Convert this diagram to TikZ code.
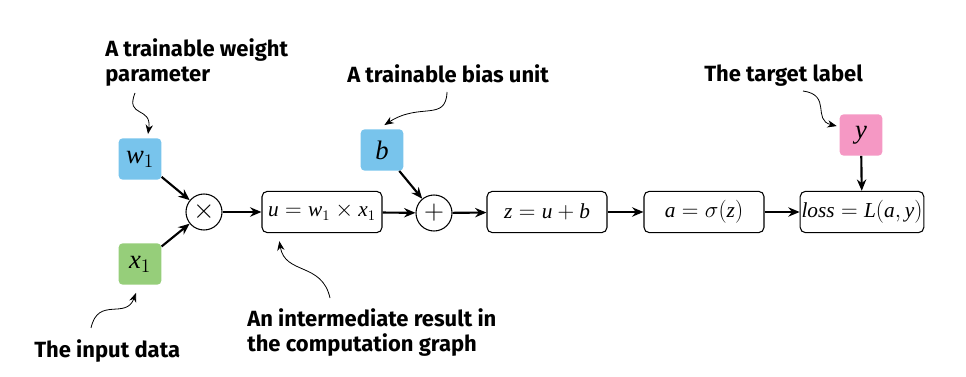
\documentclass[tikz,border=0pt]{standalone}
\usepackage{fontspec}
\setmainfont{Liberation Serif}
\setmathrm{Liberation Serif}
\newfontfamily\tms{Liberation Serif}
\newfontfamily\labfont{Fira Sans}
\newcommand\mi[1]{\mbox{\tms\itshape #1}}
\usetikzlibrary{arrows.meta}
\definecolor{pblue}{RGB}{120,196,236}
\definecolor{pgreen}{RGB}{150,206,122}
\definecolor{ppink}{RGB}{245,152,196}
\begin{document}
\begin{tikzpicture}[x=0.75pt,y=-0.75pt,
  param/.style={rounded corners=3pt, minimum width=32pt, minimum height=31pt, inner sep=0pt, font=\fontsize{20}{21}\selectfont},
  opbox/.style={draw, rounded corners=4pt, line width=0.8pt, minimum width=90pt, minimum height=31pt, inner sep=1pt, font=\fontsize{16}{18}\selectfont},
  opcirc/.style={draw, circle, minimum size=27pt, inner sep=0pt, line width=0.8pt, font=\fontsize{21}{21}\selectfont},
  conn/.style={line width=1.6pt, -{Stealth[length=8.5pt,width=7pt]}},
  note/.style={line width=0.6pt, -{Stealth[length=7pt,width=5.5pt]}},
  lab/.style={font=\labfont\bfseries\fontsize{16.5}{18.75}\selectfont, align=left, inner sep=0pt}
]
\useasboundingbox (0,0) rectangle (966,377);
% parameter boxes
\node[param, fill=pblue] (w1) at (140,159) {$\mi{w}_1$};
\node[param, fill=pgreen] (x1) at (140,264) {$\mi{x}_1$};
\node[param, fill=pblue] (b) at (382,150) {$\mi{b}$};
\node[param, fill=ppink] (y) at (861,135) {$\mi{y}$};
% operators
\node[opcirc] (mul) at (204,212) {$\times$};
\node[opcirc] (add) at (434,213) {$+$};
% boxes
\node[opbox] (u) at (322,212) {$\mi{u} = \mi{w}_1 \times \mi{x}_1$};
\node[opbox] (z) at (547,212) {$\mi{z} = \mi{u} + \mi{b}$};
\node[opbox] (a) at (704,212) {$\mi{a} = \sigma(\mi{z})$};
\node[opbox] (loss) at (862,212) {$\mi{loss} = \mi{L}(\mi{a}, \mi{y})$};
% connectors
\draw[conn] (w1) -- (mul);
\draw[conn] (x1) -- (mul);
\draw[conn] (mul) -- (u);
\draw[conn] (u) -- (add);
\draw[conn] (b) -- (add);
\draw[conn] (add) -- (z);
\draw[conn] (z) -- (a);
\draw[conn] (a) -- (loss);
\draw[conn] (y) -- (loss);
% labels
\node[lab, anchor=base west] (lw) at (105,82) {A trainable weight\\parameter};
\node[lab, anchor=base west] (lb) at (347,83) {A trainable bias unit};
\node[lab, anchor=base west] (lt) at (704,82) {The target label};
\node[lab, anchor=base west] (li) at (34,357) {The input data};
\node[lab, anchor=base west] (lu) at (247,351) {An intermediate result in\\the computation graph};
% annotation arrows
\coordinate (sw) at (135,93);
\coordinate (sb) at (447,92);
\coordinate (st) at (803,91);
\coordinate (si) at (91,328);
\coordinate (su) at (330,298);
\draw[note] (sw) .. controls (125,118) and (152,106) .. ([xshift=6pt,yshift=3pt]w1.north);
\draw[note] (sb) .. controls (446,122) and (420,102) .. ([xshift=18pt,yshift=3pt]b.north west);
\draw[note] (st) .. controls (832,95) and (812,120) .. ([xshift=-2pt,yshift=-9pt]y.north west);
\draw[note] (si) .. controls (98,296) and (126,320) .. ([xshift=-3pt,yshift=-6pt]x1.south);
\draw[note] (su) .. controls (322,262) and (285,275) .. ([xshift=-32pt,yshift=-6pt]u.south);
\end{tikzpicture}
\end{document}
